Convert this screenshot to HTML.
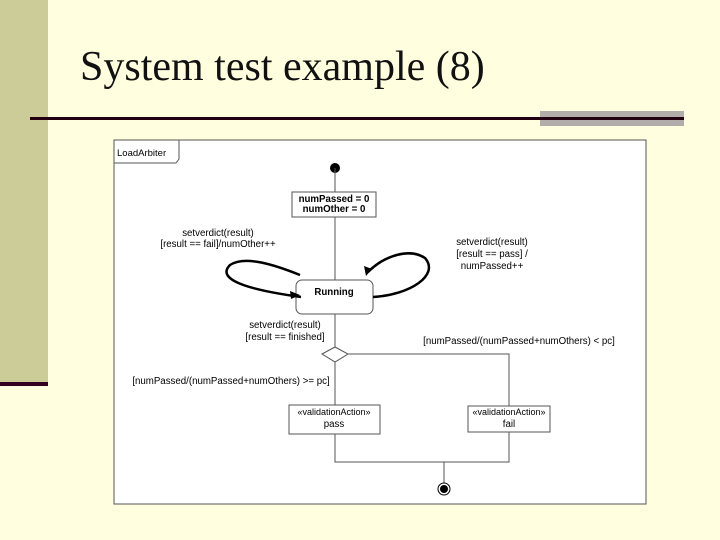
<!DOCTYPE html>
<html><head><style>
body{margin:0;width:720px;height:540px;background:#ffffe0;position:relative;overflow:hidden;font-family:"Liberation Sans",sans-serif}
.sb{position:absolute;left:0;top:0;width:48px;height:382px;background:#cccc99}
.db{position:absolute;left:0;top:382px;width:48px;height:4px;background:#330022}
.title{position:absolute;left:80px;top:43px;font-family:"Liberation Serif",serif;font-size:42px;color:#111}
</style></head><body>
<div class="sb"></div><div class="db"></div>
<div class="title">System test example (8)</div>
<div style="position:absolute;left:540px;top:111px;width:144px;height:15px;background:#b0adab"></div>
<div style="position:absolute;left:30px;top:117px;width:654px;height:3px;background:#220011"></div>
<svg width="720" height="540" style="position:absolute;left:0;top:0" font-family="Liberation Sans, sans-serif" font-size="9.7">
<rect x="114" y="140" width="532" height="364" fill="#fff" stroke="#555"/>
<path d="M114,163 H176 L179,159 V140" fill="none" stroke="#555"/>
<text x="117" y="156" font-size="9.5">LoadArbiter</text>
<circle cx="335" cy="168" r="5" fill="#000"/>
<g stroke="#555" fill="none">
<line x1="335" y1="168" x2="335" y2="192"/>
<line x1="335" y1="217" x2="335" y2="280"/>
<line x1="335" y1="314" x2="335" y2="347"/>
<polyline points="348,354 509,354 509,406"/>
<line x1="335" y1="362" x2="335" y2="405"/>
<polyline points="335,434 335,462 509,462 509,432"/>
<line x1="444" y1="462" x2="444" y2="489"/>
</g>
<rect x="292" y="192" width="84" height="25" fill="#fff" stroke="#555"/>
<text x="334" y="202" text-anchor="middle" font-weight="bold">numPassed = 0</text>
<text x="334" y="212" text-anchor="middle" font-weight="bold">numOther = 0</text>
<rect x="296" y="280" width="77" height="34" rx="6" fill="#fff" stroke="#555"/>
<text x="334" y="295" text-anchor="middle" font-weight="bold">Running</text>
<path d="M301,297 C250,290 215,280 230,265 C245,255 275,265 300,275" fill="none" stroke="#000" stroke-width="2.5"/>
<path d="M300,295 L290,291 L291,299 Z" fill="#000"/>
<path d="M373,297 C410,295 440,275 425,258 C410,248 385,255 368,272" fill="none" stroke="#000" stroke-width="2.5"/>
<path d="M366,276 L364,266 L372,269 Z" fill="#000"/>
<text x="218" y="236" text-anchor="middle">setverdict(result)</text>
<text x="218" y="247" text-anchor="middle">[result == fail]/numOther++</text>
<text x="492" y="245" text-anchor="middle">setverdict(result)</text>
<text x="492" y="257" text-anchor="middle">[result == pass] /</text>
<text x="492" y="269" text-anchor="middle">numPassed++</text>
<text x="285" y="328" text-anchor="middle">setverdict(result)</text>
<text x="285" y="340" text-anchor="middle">[result == finished]</text>
<text x="519" y="344" text-anchor="middle">[numPassed/(numPassed+numOthers) &lt; pc]</text>
<text x="231" y="384" text-anchor="middle">[numPassed/(numPassed+numOthers) &gt;= pc]</text>
<polygon points="322,354 335,347 348,354 335,362" fill="#fff" stroke="#555"/>
<rect x="289" y="405" width="91" height="29" fill="#fff" stroke="#555"/>
<text x="334" y="415" text-anchor="middle" font-size="9">«validationAction»</text>
<text x="334" y="427" text-anchor="middle">pass</text>
<rect x="468" y="406" width="82" height="26" fill="#fff" stroke="#555"/>
<text x="509" y="415" text-anchor="middle" font-size="9">«validationAction»</text>
<text x="509" y="427" text-anchor="middle">fail</text>
<circle cx="444" cy="489" r="6" fill="#fff" stroke="#000"/>
<circle cx="444" cy="489" r="4" fill="#000"/>
</svg>
</body></html>
